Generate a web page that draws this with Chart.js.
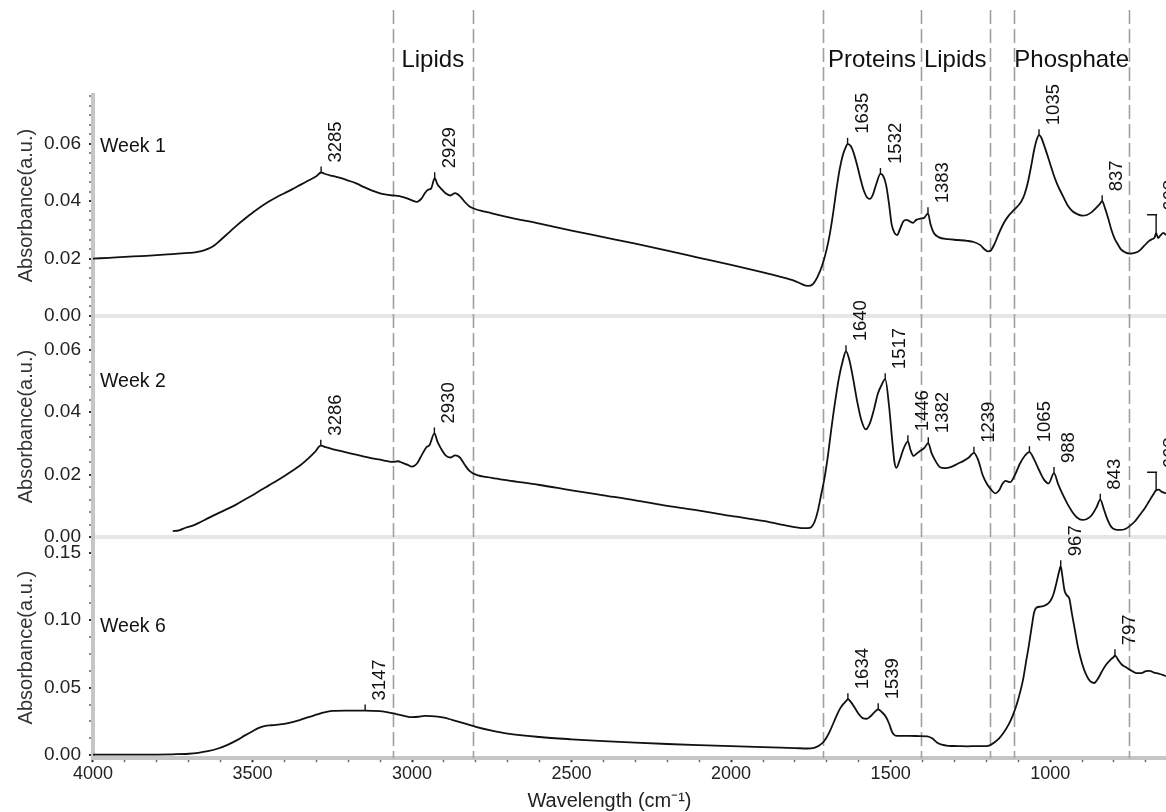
<!DOCTYPE html>
<html>
<head>
<meta charset="utf-8">
<script src="https://cdn.jsdelivr.net/npm/chart.js@4.4.1/dist/chart.umd.min.js"></script>
<style>
  html, body { margin: 0; padding: 0; background: #fff; overflow: hidden; }
  #wrap { width: 1166px; height: 812px; }
</style>
</head>
<body>
<div id="wrap"><canvas id="ftir" width="1166" height="812"></canvas></div>
<script>
// FTIR absorbance spectra, [wavenumber cm-1, absorbance a.u.]
const week1 = [
  [4000,0.0200],[3950,0.0203],[3900,0.0206],[3850,0.0209],[3800,0.0212],[3750,0.0216],[3700,0.0220],
  [3680,0.0222],[3660,0.0226],[3640,0.0234],[3620,0.0246],[3600,0.0265],[3575,0.0290],[3550,0.0315],
  [3525,0.0338],[3500,0.0360],[3475,0.0380],[3450,0.0398],[3425,0.0414],[3400,0.0428],[3375,0.0442],
  [3350,0.0457],[3325,0.0472],[3300,0.0487],[3285,0.0500],[3270,0.0494],[3250,0.0488],[3225,0.0481],
  [3200,0.0472],[3175,0.0462],[3150,0.0449],[3125,0.0437],[3100,0.0427],[3080,0.0423],[3060,0.0420],
  [3040,0.0418],[3020,0.0412],[3000,0.0403],[2985,0.0398],[2970,0.0410],[2960,0.0428],[2950,0.0440],
  [2940,0.0445],[2929,0.0480],[2920,0.0458],[2910,0.0445],[2895,0.0428],[2880,0.0420],[2865,0.0428],
  [2850,0.0418],[2835,0.0398],[2820,0.0382],[2800,0.0372],[2750,0.0358],[2700,0.0345],[2600,0.0322],
  [2500,0.0298],[2400,0.0275],[2300,0.0252],[2200,0.0228],[2100,0.0203],[2000,0.0178],[1900,0.0152],
  [1850,0.0138],[1800,0.0122],[1780,0.0112],[1760,0.0105],[1745,0.0110],[1730,0.0135],[1715,0.0175],
  [1700,0.0235],[1690,0.0290],[1680,0.0360],[1670,0.0440],[1660,0.0510],[1650,0.0560],[1640,0.0590],
  [1635,0.0600],[1625,0.0592],[1615,0.0565],[1605,0.0525],[1595,0.0480],[1585,0.0440],[1575,0.0415],
  [1565,0.0408],[1555,0.0425],[1545,0.0460],[1532,0.0495],[1522,0.0485],[1514,0.0455],[1505,0.0390],
  [1497,0.0320],[1488,0.0290],[1480,0.0282],[1470,0.0305],[1460,0.0330],[1450,0.0335],[1440,0.0330],
  [1430,0.0325],[1420,0.0335],[1405,0.0340],[1395,0.0342],[1383,0.0358],[1375,0.0320],[1365,0.0290],
  [1350,0.0275],[1320,0.0268],[1290,0.0265],[1260,0.0262],[1240,0.0258],[1220,0.0248],[1205,0.0232],
  [1195,0.0225],[1185,0.0230],[1175,0.0250],[1160,0.0290],[1145,0.0325],[1130,0.0350],[1115,0.0368],
  [1100,0.0385],[1090,0.0400],[1080,0.0425],[1070,0.0465],[1060,0.0520],[1050,0.0580],[1042,0.0615],
  [1035,0.0630],[1028,0.0622],[1020,0.0598],[1010,0.0565],[1000,0.0530],[990,0.0495],[980,0.0465],
  [970,0.0440],[960,0.0418],[945,0.0385],[930,0.0365],[915,0.0355],[900,0.0350],[885,0.0352],
  [870,0.0362],[855,0.0378],[845,0.0390],[837,0.0400],[828,0.0375],[818,0.0340],[808,0.0300],
  [798,0.0270],[788,0.0250],[778,0.0232],[765,0.0222],[750,0.0218],[735,0.0220],[720,0.0228],
  [705,0.0245],[690,0.0262],[680,0.0268],[672,0.0275],[668,0.0290],[662,0.0272],[655,0.0280],
  [645,0.0290],[637,0.0282]
];
const week2 = [
  [3750,0.0019],[3730,0.0022],[3710,0.0030],[3690,0.0036],[3670,0.0045],[3650,0.0055],[3625,0.0068],
  [3600,0.0080],[3575,0.0092],[3550,0.0105],[3525,0.0120],[3500,0.0134],[3475,0.0150],[3450,0.0165],
  [3425,0.0180],[3400,0.0196],[3375,0.0213],[3350,0.0230],[3325,0.0252],[3305,0.0272],[3286,0.0293],
  [3270,0.0288],[3250,0.0282],[3225,0.0276],[3200,0.0270],[3175,0.0264],[3150,0.0258],[3125,0.0252],
  [3100,0.0248],[3080,0.0244],[3060,0.0241],[3045,0.0243],[3030,0.0238],[3015,0.0232],[3000,0.0226],
  [2985,0.0235],[2970,0.0262],[2955,0.0288],[2945,0.0295],[2930,0.0332],[2920,0.0305],[2910,0.0285],
  [2895,0.0262],[2880,0.0255],[2865,0.0262],[2850,0.0255],[2835,0.0232],[2820,0.0212],[2800,0.0200],
  [2750,0.0190],[2700,0.0182],[2600,0.0167],[2500,0.0150],[2400,0.0134],[2300,0.0118],[2200,0.0100],
  [2100,0.0085],[2000,0.0068],[1900,0.0052],[1850,0.0042],[1800,0.0032],[1780,0.0029],[1760,0.0029],
  [1748,0.0033],[1738,0.0050],[1728,0.0085],[1718,0.0135],[1708,0.0185],[1698,0.0250],[1688,0.0330],
  [1676,0.0420],[1662,0.0510],[1650,0.0565],[1640,0.0595],[1630,0.0570],[1618,0.0510],[1605,0.0435],
  [1592,0.0375],[1578,0.0345],[1565,0.0365],[1552,0.0410],[1540,0.0460],[1528,0.0488],[1517,0.0506],
  [1505,0.0420],[1496,0.0320],[1488,0.0240],[1482,0.0222],[1472,0.0245],[1460,0.0282],[1446,0.0307],
  [1438,0.0280],[1428,0.0260],[1418,0.0268],[1408,0.0276],[1395,0.0285],[1382,0.0301],[1372,0.0270],
  [1360,0.0245],[1345,0.0224],[1330,0.0221],[1310,0.0225],[1290,0.0235],[1270,0.0245],[1255,0.0255],
  [1239,0.0270],[1225,0.0245],[1212,0.0200],[1198,0.0170],[1185,0.0152],[1172,0.0140],[1160,0.0150],
  [1150,0.0170],[1140,0.0180],[1125,0.0176],[1110,0.0200],[1095,0.0235],[1080,0.0260],[1065,0.0272],
  [1050,0.0248],[1035,0.0215],[1020,0.0185],[1005,0.0172],[988,0.0205],[975,0.0170],[960,0.0135],
  [945,0.0105],[930,0.0080],[915,0.0062],[900,0.0055],[885,0.0058],[870,0.0070],[855,0.0095],
  [843,0.0120],[832,0.0090],[820,0.0055],[808,0.0032],[795,0.0024],[780,0.0023],[765,0.0026],
  [750,0.0036],[735,0.0050],[720,0.0070],[705,0.0090],[690,0.0115],[678,0.0135],[668,0.0150],
  [660,0.0152],[650,0.0145],[637,0.0140]
];
const week6 = [
  [4000,0.0004],[3900,0.0004],[3800,0.0005],[3750,0.0007],[3700,0.0011],[3670,0.0018],[3640,0.0030],
  [3610,0.0048],[3580,0.0075],[3550,0.0110],[3525,0.0145],[3500,0.0178],[3480,0.0202],[3460,0.0218],
  [3440,0.0222],[3420,0.0226],[3400,0.0232],[3375,0.0245],[3350,0.0262],[3325,0.0282],[3300,0.0300],
  [3275,0.0318],[3250,0.0328],[3200,0.0330],[3147,0.0331],[3100,0.0326],[3075,0.0318],[3050,0.0305],
  [3025,0.0292],[3000,0.0282],[2980,0.0285],[2960,0.0292],[2940,0.0290],[2920,0.0286],[2900,0.0278],
  [2875,0.0262],[2850,0.0245],[2825,0.0228],[2800,0.0210],[2750,0.0182],[2700,0.0160],[2600,0.0135],
  [2500,0.0118],[2400,0.0104],[2300,0.0093],[2200,0.0083],[2100,0.0075],[2000,0.0068],[1900,0.0060],
  [1800,0.0053],[1760,0.0050],[1740,0.0055],[1725,0.0070],[1710,0.0100],[1700,0.0135],[1690,0.0180],
  [1680,0.0235],[1670,0.0290],[1660,0.0340],[1650,0.0375],[1640,0.0400],[1634,0.0415],[1625,0.0395],
  [1612,0.0350],[1600,0.0305],[1588,0.0275],[1575,0.0270],[1565,0.0285],[1552,0.0315],[1539,0.0340],
  [1528,0.0320],[1515,0.0285],[1505,0.0235],[1495,0.0170],[1485,0.0145],[1470,0.0143],[1440,0.0143],
  [1410,0.0142],[1385,0.0140],[1370,0.0125],[1355,0.0095],[1340,0.0078],[1320,0.0070],[1290,0.0068],
  [1260,0.0066],[1230,0.0068],[1200,0.0068],[1188,0.0075],[1175,0.0095],[1160,0.0125],[1145,0.0170],
  [1130,0.0228],[1118,0.0290],[1105,0.0375],[1095,0.0460],[1085,0.0560],[1075,0.0700],[1067,0.0810],
  [1058,0.0950],[1050,0.1060],[1042,0.1095],[1030,0.1100],[1015,0.1110],[1000,0.1140],[990,0.1190],
  [980,0.1280],[972,0.1360],[967,0.1400],[962,0.1330],[955,0.1220],[948,0.1185],[940,0.1160],
  [932,0.1050],[922,0.0920],[912,0.0790],[900,0.0680],[888,0.0600],[875,0.0548],[862,0.0535],
  [850,0.0568],[838,0.0620],[825,0.0670],[812,0.0705],[800,0.0730],[797,0.0740],[788,0.0710],
  [775,0.0670],[760,0.0648],[745,0.0625],[730,0.0608],[715,0.0608],[700,0.0622],[688,0.0625],
  [675,0.0612],[660,0.0605],[648,0.0595],[637,0.0585]
];

// labelled band positions (cm-1) for each week
const week1Peaks = [3285, 2929, 1635, 1532, 1383, 1035, 837, 668];
const week2Peaks = [3286, 2930, 1640, 1517, 1446, 1382, 1239, 1065, 988, 843, 668];
const week6Peaks = [3147, 1634, 1539, 967, 797];

// assignment regions (cm-1)
const regionNames = ['Lipids', 'Proteins', 'Lipids', 'Phosphate'];
const regionFrom  = [3060, 1712, 1405, 1113];
const regionTo    = [2810, 1405, 1190, 752];
const regionEdges = [3060, 2810, 1712, 1405, 1190, 1113, 752];

// axis ticks
const xTickLabels = [4000, 3500, 3000, 2500, 2000, 1500, 1000];
const yTicksWeek1 = [0, 0.02, 0.04, 0.06];
const yTicksWeek2 = [0, 0.02, 0.04, 0.06];
const yTicksWeek6 = [0, 0.05, 0.10, 0.15];

const FONT = '"Liberation Sans", Arial, sans-serif';
Chart.defaults.font.family = FONT;
Chart.defaults.color = '#222';

const panels = [
  { name: 'Week 1', axis: 'yW1', data: week1, peaks: week1Peaks, nameAt: 0.0573 },
  { name: 'Week 2', axis: 'yW2', data: week2, peaks: week2Peaks, nameAt: 0.0482 },
  { name: 'Week 6', axis: 'yW6', data: week6, peaks: week6Peaks, nameAt: 0.0910 }
];

function near(a, b) { return Math.abs(a - b) < 1e-9; }

function panelAxis(min, max, majors, minorPerMajor, separator) {
  const step = (majors[1] - majors[0]) / minorPerMajor;
  const isMajor = v => majors.some(m => near(m, v));
  return {
    type: 'linear', position: 'left', stack: 'panels', stackWeight: 1,
    min, max,
    afterBuildTicks(scale) {
      const t = [];
      for (let i = 0; majors[0] + i * step <= max + 1e-9; i++) {
        const v = majors[0] + i * step;
        const m = majors.find(mm => near(mm, v));
        t.push({ value: m !== undefined ? m : v });
      }
      scale.ticks = t;
    },
    ticks: {
      autoSkip: false, padding: 8, color: '#222',
      font: { size: 19 },
      callback: v => isMajor(v) ? v.toFixed(2) : ''
    },
    grid: {
      tickLength: 4,
      color: c => (separator && c.tick && near(c.tick.value, 0)) ? '#e6e6e6' : 'rgba(0,0,0,0)',
      lineWidth: c => (separator && c.tick && near(c.tick.value, 0)) ? 4 : 0,
      tickColor: c => (c.tick && isMajor(c.tick.value)) ? '#333' : '#666',
      tickWidth: c => (c.tick && isMajor(c.tick.value)) ? 2 : 1.5
    },
    border: { display: true, color: '#c6c6c6', width: 4 },
    title: {
      display: true, text: 'Absorbance(a.u.)', color: '#333',
      font: { size: 20, lineHeight: 1 }, padding: { top: 6, bottom: 0 }
    }
  };
}

// dashed region bounds, region names, week names and band markers
const spectrumDecor = {
  id: 'spectrumDecor',
  beforeDatasetsDraw(chart) {
    const { ctx, chartArea, scales } = chart;
    const x = scales.x;
    ctx.save();
    ctx.strokeStyle = '#a0a0a0';
    ctx.lineWidth = 1.6;
    ctx.setLineDash([14, 5]);
    regionEdges.forEach(wn => {
      const px = Math.round(x.getPixelForValue(wn)) + 0.5;
      ctx.beginPath();
      ctx.moveTo(px, 10);
      ctx.lineTo(px, chartArea.bottom);
      ctx.stroke();
    });
    ctx.restore();
  },
  afterDatasetsDraw(chart) {
    const { ctx, chartArea, scales } = chart;
    const x = scales.x;
    ctx.save();

    // region names above the plot
    ctx.fillStyle = '#111';
    ctx.font = '24px ' + FONT;
    ctx.textAlign = 'center';
    ctx.textBaseline = 'alphabetic';
    regionNames.forEach((name, i) => {
      const cx = (x.getPixelForValue(regionFrom[i]) + x.getPixelForValue(regionTo[i])) / 2;
      ctx.fillText(name, cx, 67);
    });

    // week names
    ctx.font = '19.5px ' + FONT;
    ctx.textAlign = 'left';
    panels.forEach(p => {
      ctx.fillText(p.name, chartArea.left + 7, scales[p.axis].getPixelForValue(p.nameAt));
    });

    // band markers with rotated wavenumber labels
    ctx.strokeStyle = '#111';
    ctx.lineWidth = 1.4;
    ctx.font = '18.5px ' + FONT;
    ctx.textBaseline = 'middle';
    panels.forEach(p => {
      const y = scales[p.axis];
      p.peaks.forEach(wn => {
        const pt = p.data.find(d => d[0] === wn);
        if (!pt) return;
        const px = x.getPixelForValue(wn);
        const py = y.getPixelForValue(pt[1]);
        const lead = wn < 700 ? 18 : 6;
        ctx.beginPath();
        ctx.moveTo(px, py);
        ctx.lineTo(px, py - lead);
        if (lead > 6) { ctx.moveTo(px - 9, py - lead); ctx.lineTo(px + 1, py - lead); }
        ctx.stroke();
        ctx.save();
        ctx.translate(px + 15, py - lead - 4);
        ctx.rotate(-Math.PI / 2);
        ctx.fillText(String(wn), 0, 0);
        ctx.restore();
      });
    });
    ctx.restore();
  }
};

const toXY = arr => arr.map(d => ({ x: d[0], y: d[1] }));

new Chart(document.getElementById('ftir'), {
  type: 'line',
  data: {
    datasets: panels.map(p => ({
      label: p.name,
      data: toXY(p.data),
      yAxisID: p.axis,
      borderColor: '#111',
      borderWidth: 1.8,
      pointRadius: 0,
      cubicInterpolationMode: 'monotone',
      fill: false
    }))
  },
  options: {
    responsive: false,
    animation: false,
    devicePixelRatio: 1,
    layout: { padding: { top: 95, left: 10, right: 0, bottom: 0 } },
    plugins: { legend: { display: false }, tooltip: { enabled: false } },
    scales: {
      x: {
        type: 'linear', position: 'bottom', reverse: true,
        min: 637, max: 4000,
        afterBuildTicks(scale) {
          const t = [];
          for (let v = 700; v <= 4000; v += 100) t.push({ value: v });
          scale.ticks = t;
        },
        ticks: {
          autoSkip: false, maxRotation: 0, padding: 2, color: '#222',
          font: { size: 18, lineHeight: 1.1 },
          callback: v => xTickLabels.includes(v) ? String(v) : ''
        },
        grid: {
          drawOnChartArea: false, tickLength: 4,
          tickColor: c => (c.tick && xTickLabels.includes(c.tick.value)) ? '#333' : '#666',
          tickWidth: c => (c.tick && xTickLabels.includes(c.tick.value)) ? 2 : 1.5
        },
        border: { display: true, color: '#c6c6c6', width: 4 },
        title: {
          display: true, text: 'Wavelength (cm\u207B\u00B9)\u2003\u2003', color: '#222',
          font: { size: 20, lineHeight: 1.1 }, padding: { top: 4, bottom: 0 }
        }
      },
      yW6: panelAxis(-0.0022, 0.1615, yTicksWeek6, 4, false),
      yW2: panelAxis(0, 0.0708, yTicksWeek2, 5, true),
      yW1: panelAxis(0, 0.077, yTicksWeek1, 6, true)
    }
  },
  plugins: [spectrumDecor]
});
</script>
</body>
</html>
